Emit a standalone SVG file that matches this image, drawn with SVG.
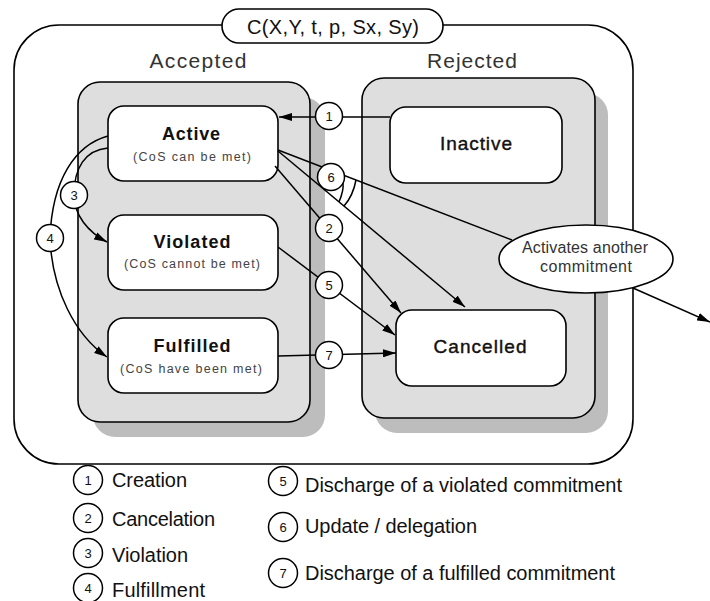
<svg xmlns="http://www.w3.org/2000/svg" width="710" height="601" viewBox="0 0 710 601">
<defs>
<marker id="arr" viewBox="0 0 13 8" refX="13" refY="4" markerWidth="13" markerHeight="8" markerUnits="userSpaceOnUse" orient="auto">
<path d="M0,0 L13,4 L0,8 z" fill="#000"/>
</marker>
</defs>
<style>
text{font-family:"Liberation Sans",Arial,sans-serif;}
.frame{fill:#fff;stroke:#000;stroke-width:1.6;}
.group{fill:#dedede;stroke:#000;stroke-width:1.6;}
.shadow{fill:#bdbdbd;stroke:none;}
.node{fill:#fff;stroke:#000;stroke-width:1.6;}
.title{font-size:20px;fill:#111;text-anchor:middle;}
.glabel{font-size:21px;fill:#333;text-anchor:middle;}
.name{font-size:18px;font-weight:bold;fill:#111;text-anchor:middle;}
.name2{font-size:19px;fill:#111;stroke:#111;stroke-width:0.4;text-anchor:middle;}
.sub{font-size:12.5px;fill:#444;text-anchor:middle;}
.conn{fill:none;stroke:#000;stroke-width:1.5;}
.badge{fill:#fff;stroke:#000;stroke-width:1.5;}
.num{font-size:13px;fill:#111;text-anchor:middle;}
.ell{font-size:16px;fill:#333;text-anchor:middle;}
.leg{font-size:20px;fill:#111;}
</style>

<g id="container">
<rect class="frame" x="14" y="25" width="619" height="439" rx="45"/>
</g>
<g id="title">
<rect class="frame" x="222" y="9" width="221" height="34" rx="17"/>
<text class="title" x="333" y="34" textLength="172" lengthAdjust="spacing">C(X,Y, t, p, Sx, Sy)</text>
</g>

<g id="accepted">
<rect class="shadow" x="93" y="97" width="232" height="340" rx="22"/>
<rect class="group" x="78" y="82" width="232" height="340" rx="22"/>
<text class="glabel" x="198" y="68" textLength="97" lengthAdjust="spacing">Accepted</text>
</g>
<g id="rejected">
<rect class="shadow" x="375" y="93" width="233" height="340" rx="22"/>
<rect class="group" x="362" y="78" width="233" height="340" rx="22"/>
<text class="glabel" x="472" y="68" textLength="90" lengthAdjust="spacing">Rejected</text>
</g>

<g id="active">
<rect class="node" x="108" y="106" width="170" height="75" rx="16"/>
<text class="name" x="191" y="140" textLength="58" lengthAdjust="spacing">Active</text>
<text class="sub" x="192" y="161" textLength="118" lengthAdjust="spacing">(CoS can be met)</text>
</g>
<g id="violated">
<rect class="node" x="108" y="215" width="170" height="75" rx="16"/>
<text class="name" x="192" y="248" textLength="77" lengthAdjust="spacing">Violated</text>
<text class="sub" x="192" y="268" textLength="136" lengthAdjust="spacing">(CoS cannot be met)</text>
</g>
<g id="fulfilled">
<rect class="node" x="108" y="318" width="170" height="75" rx="16"/>
<text class="name" x="192" y="352" textLength="77" lengthAdjust="spacing">Fulfilled</text>
<text class="sub" x="191" y="373" textLength="142" lengthAdjust="spacing">(CoS have been met)</text>
</g>
<g id="inactive">
<rect class="node" x="390" y="107" width="172" height="76" rx="16"/>
<text class="name2" x="476" y="150" textLength="72" lengthAdjust="spacing">Inactive</text>
</g>
<g id="cancelled">
<rect class="node" x="396" y="310" width="170" height="76" rx="16"/>
<text class="name2" x="480" y="353" textLength="93" lengthAdjust="spacing">Cancelled</text>
</g>

<g id="connectors">
<path class="conn" d="M390,117 L279,117" marker-end="url(#arr)"/>
<path class="conn" d="M278,150 L512,240"/>
<path class="conn" d="M278,151 L465,307" marker-end="url(#arr)"/>
<path class="conn" d="M275,166 L401,313" marker-end="url(#arr)"/>
<path class="conn" d="M278,247 L395,335" marker-end="url(#arr)"/>
<path class="conn" d="M278,356 L396,353" marker-end="url(#arr)"/>
<path class="conn" d="M108,136 C75,145 52,180 50,238 C52,290 75,335 107,357" marker-end="url(#arr)"/>
<path class="conn" d="M108,148 C85,150 74,168 74,195 C74,215 88,232 107,242" marker-end="url(#arr)"/>
<path class="conn" d="M633,288 L710,322" marker-end="url(#arr)"/>
<path class="conn" d="M356,180 Q353,196 344,206"/>
<path class="conn" d="M343,183 Q344,190 339,202"/>
</g>

<g id="badges">
<circle class="badge" cx="329" cy="116" r="13.5"/><text class="num" x="329" y="121">1</text>
<circle class="badge" cx="329" cy="228" r="13.5"/><text class="num" x="329" y="233">2</text>
<circle class="badge" cx="74" cy="195" r="13.5"/><text class="num" x="74" y="200">3</text>
<circle class="badge" cx="50" cy="238" r="13.5"/><text class="num" x="50" y="243">4</text>
<circle class="badge" cx="329" cy="285" r="13.5"/><text class="num" x="329" y="290">5</text>
<circle class="badge" cx="331" cy="177" r="13.5"/><text class="num" x="331" y="182">6</text>
<circle class="badge" cx="329" cy="355" r="13.5"/><text class="num" x="329" y="360">7</text>
</g>

<g id="another">
<ellipse class="node" cx="586" cy="259" rx="87" ry="34"/>
<text class="ell" x="585" y="253" textLength="126" lengthAdjust="spacing">Activates another</text>
<text class="ell" x="586" y="272" textLength="92" lengthAdjust="spacing">commitment</text>
</g>

<g id="legend">
<circle class="badge" cx="88" cy="480" r="14.5"/><text class="num" x="88" y="485">1</text>
<text class="leg" x="112" y="487" textLength="75" lengthAdjust="spacing">Creation</text>
<circle class="badge" cx="88" cy="518" r="14.5"/><text class="num" x="88" y="523">2</text>
<text class="leg" x="112" y="526" textLength="103" lengthAdjust="spacing">Cancelation</text>
<circle class="badge" cx="88" cy="553" r="14.5"/><text class="num" x="88" y="558">3</text>
<text class="leg" x="112" y="562" textLength="76" lengthAdjust="spacing">Violation</text>
<circle class="badge" cx="88" cy="588" r="14.5"/><text class="num" x="88" y="593">4</text>
<text class="leg" x="112" y="597" textLength="93" lengthAdjust="spacing">Fulfillment</text>
<circle class="badge" cx="283" cy="481" r="14.5"/><text class="num" x="283" y="486">5</text>
<text class="leg" x="305" y="492" textLength="317" lengthAdjust="spacing">Discharge of a violated commitment</text>
<circle class="badge" cx="283" cy="527" r="14.5"/><text class="num" x="283" y="532">6</text>
<text class="leg" x="305" y="533" textLength="172" lengthAdjust="spacing">Update / delegation</text>
<circle class="badge" cx="283" cy="573" r="14.5"/><text class="num" x="283" y="578">7</text>
<text class="leg" x="305" y="580" textLength="310" lengthAdjust="spacing">Discharge of a fulfilled commitment</text>
</g>
</svg>
